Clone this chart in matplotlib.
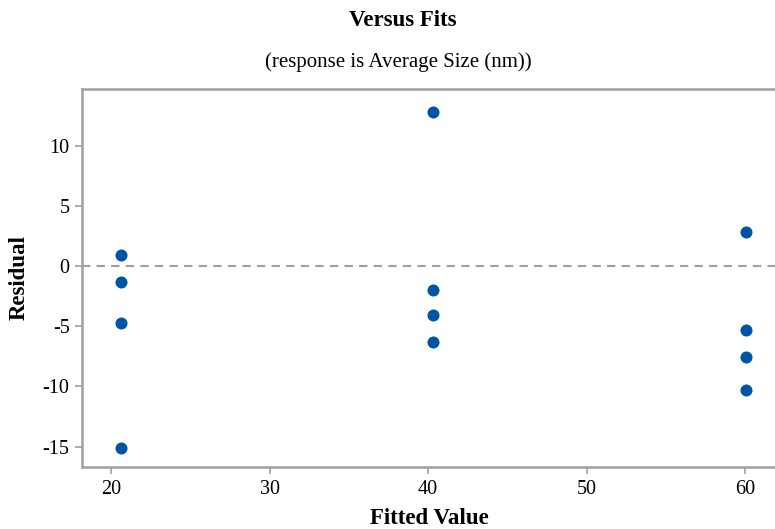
import matplotlib
matplotlib.use("Agg")
import matplotlib.pyplot as plt

fitted = [20.6, 20.6, 20.6, 20.6,
          40.3, 40.3, 40.3, 40.3,
          60.05, 60.05, 60.05, 60.05]
residuals = [0.9, -1.3, -4.7, -15.15,
             12.8, -2.0, -4.08, -6.35,
             2.82, -5.33, -7.52, -10.33]
xticks = [20, 30, 40, 50, 60]
yticks = [-15, -10, -5, 0, 5, 10]

plt.rcParams['font.family'] = ['Liberation Serif', 'DejaVu Serif']

fig = plt.figure(figsize=(7.75, 5.29), dpi=100)
W, H = 775, 529
left, right, top, bottom = 82, 776, 89, 467
ax = fig.add_axes([left / W, 1 - bottom / H, (right - left) / W, (bottom - top) / H])

gray = '#a0a0a0'
ax.axhline(0, color=gray, linestyle=(0, (4, 3)), linewidth=1.5, zorder=1)
ax.scatter(fitted, residuals, s=75, color='#0054a6', zorder=3, linewidths=0)

ax.set_xlim(18.17, 61.95)
ax.set_ylim(-16.7, 14.71)
ax.set_xticks(xticks)
ax.set_yticks(yticks)
ax.set_yticklabels([str(v) for v in yticks])

for s in ['left', 'bottom', 'top']:
    ax.spines[s].set_color(gray)
    ax.spines[s].set_linewidth(1.8)
ax.spines['right'].set_visible(False)
ax.tick_params(axis='both', direction='out', color=gray, width=1.2, length=5,
               labelsize=14.5, pad=4)

ax.set_xlabel('Fitted Value', fontsize=16.5, fontweight='bold', labelpad=7)
ax.set_ylabel('Residual', fontsize=16.5, fontweight='bold', labelpad=9)

fig.text(403 / W, 1 - 21 / H, 'Versus Fits', ha='center', va='center',
         fontsize=16.5, fontweight='bold')
fig.text(398 / W, 1 - 62 / H, '(response is Average Size (nm))', ha='center',
         va='center', fontsize=15)

fig.savefig('out.png', dpi=100)
